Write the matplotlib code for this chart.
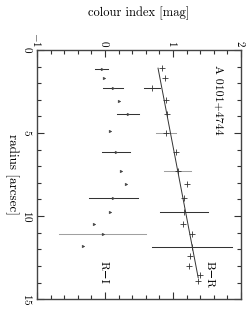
import matplotlib
matplotlib.use("Agg")
from matplotlib import pyplot as plt
from matplotlib.ticker import MultipleLocator, FixedLocator, FixedFormatter

plt.rcParams["font.family"] = ["cmr10", "DejaVu Serif"]
plt.rcParams["mathtext.fontset"] = "cm"
plt.rcParams["axes.formatter.use_mathtext"] = True

# B-R profile
br_radius = [1.1, 1.7, 2.3, 3.0, 3.85, 5.0, 6.15, 7.3, 8.1, 8.9, 9.75, 10.5, 11.1, 11.85, 12.4, 13.0, 13.55, 13.9]
br_colour = [0.84, 0.88, 0.69, 0.90, 0.91, 0.90, 1.05, 1.07, 1.20, 1.16, 1.16, 1.15, 1.28, 1.28, 1.25, 1.24, 1.40, 1.37]
br_error = [0, 0, 0.12, 0, 0, 0.15, 0, 0.20, 0, 0, 0.35, 0, 0, 0.59, 0, 0, 0, 0]

# R-I profile
ri_radius = [1.15, 1.7, 2.3, 3.1, 3.85, 4.9, 6.15, 7.3, 8.1, 8.9, 9.75, 10.5, 11.1, 11.8]
ri_colour = [-0.05, -0.01, 0.12, 0.21, 0.34, 0.07, 0.16, 0.24, 0.31, 0.12, 0.08, -0.16, -0.03, -0.32]
ri_error = [0.10, 0, 0.15, 0, 0.16, 0, 0.21, 0, 0, 0.36, 0, 0, 0.64, 0]

# linear fit to B-R
fit_radius = [1.1, 13.7]
fit_colour = [0.78, 1.37]

colour_ticks = [-1, 0, 1, 2]
colour_labels = ["$-1$", "$0$", "$1$", "$2$"]
radius_ticks = [0, 5, 10, 15]

# which error bars are drawn in grey
br_grey = [5, 7]
ri_grey = [12]

fig = plt.figure(figsize=(2.5, 3.1), dpi=100)
ax = fig.add_axes([0.148, 0.035, 0.816, 0.804])

dark = "#333333"
grey = "#a0a0a0"

for i in range(len(br_radius)):
    if br_error[i] > 0:
        c = grey if i in br_grey else dark
        ax.plot([br_colour[i] - br_error[i], br_colour[i] + br_error[i]],
                [br_radius[i], br_radius[i]], color=c, lw=0.75)
for i in range(len(ri_radius)):
    if ri_error[i] > 0:
        c = grey if i in ri_grey else dark
        ax.plot([ri_colour[i] - ri_error[i], ri_colour[i] + ri_error[i]],
                [ri_radius[i], ri_radius[i]], color=c, lw=0.75)

ax.plot(fit_colour, fit_radius, color=dark, lw=0.7)
ax.plot(br_colour, br_radius, ls="none", marker="+", ms=4, mew=0.6, color=dark)
ax.plot(ri_colour, ri_radius, ls="none", marker=">", ms=2, mew=0.3, color="#444444")

ax.set_xlim(-1, 2)
ax.set_ylim(15, 0)

ax.xaxis.set_major_locator(FixedLocator(colour_ticks))
ax.xaxis.set_major_formatter(FixedFormatter(colour_labels))
ax.xaxis.set_minor_locator(MultipleLocator(0.2))
ax.yaxis.set_major_locator(FixedLocator(radius_ticks))
ax.yaxis.set_minor_locator(MultipleLocator(1))

ax.tick_params(which="both", direction="in", top=True, bottom=True, left=True, right=True,
               labeltop=True, labelbottom=False, color="#333333", width=0.8)
ax.tick_params(which="major", length=5, labelsize=8, pad=2)
ax.tick_params(which="minor", length=3)
ax.tick_params(axis="x", labelrotation=-90)
ax.tick_params(axis="y", labelrotation=-90)
for lab in ax.get_yticklabels():
    lab.set_verticalalignment("center")
for s in ax.spines.values():
    s.set_color("#444444")
    s.set_linewidth(1.0)

fig.text(0.556, 0.958, "colour index [mag]", ha="center", va="center", fontsize=9)
fig.text(0.048, 0.437, "radius [arcsec]", ha="center", va="center", rotation=-90, fontsize=9.5)

ax.text(1.66, 0.9, "A 0101+4744", rotation=-90, ha="center", va="top", fontsize=8.5)
ax.text(1.54, 12.7, "B\u2212R", rotation=-90, ha="center", va="top", fontsize=8.5)
ax.text(-0.03, 12.7, "R\u2212I", rotation=-90, ha="center", va="top", fontsize=8.5)

fig.savefig("out.png", dpi=100)
